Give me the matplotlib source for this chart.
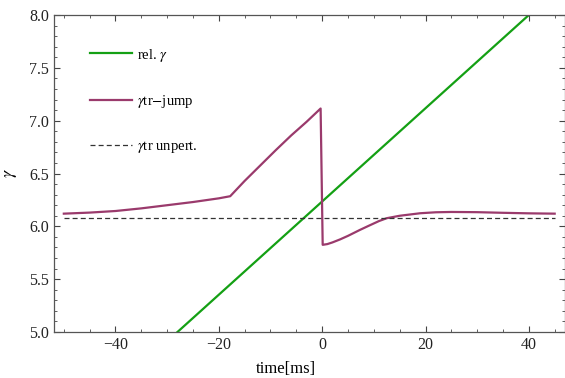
import numpy as np
import matplotlib
matplotlib.use('Agg')
import matplotlib.pyplot as plt
from matplotlib.ticker import MultipleLocator

plt.rcParams['font.family'] = ['Liberation Serif', 'DejaVu Serif']
plt.rcParams['mathtext.fontset'] = 'stix'

# relativistic gamma (straight line)
t_rel = [-28.0, 40.0]
g_rel = [5.0, 8.0]

# gamma transition with jump
t_jump = [-50, -45, -40, -35, -30, -25, -20, -17.8, -15, -12, -9, -6, -3, -0.3,
          0.1, 1, 2, 3.5, 5, 7.3, 9, 11, 12.5, 15, 19, 22, 25, 30, 35, 40, 45]
g_jump = [6.12, 6.13, 6.145, 6.17, 6.20, 6.23, 6.265, 6.285, 6.43, 6.575, 6.72, 6.86, 6.99, 7.115,
          5.825, 5.832, 5.848, 5.877, 5.91, 5.966, 6.005, 6.05, 6.077, 6.10, 6.124, 6.133, 6.136,
          6.134, 6.128, 6.123, 6.12]

# unperturbed gamma transition
t_unp = [-50, 45]
g_unp = [6.083, 6.083]

fig = plt.figure(figsize=(5.65, 3.78), dpi=100)
ax = fig.add_axes([54 / 565, 46 / 378, 510.5 / 565, 317 / 378])

ax.plot(t_rel, g_rel, color='#14a014', lw=1.6, label=r'rel. $\gamma$')
ax.plot(t_jump, g_jump, color='#9a3a6c', lw=1.6, label=r'$\gamma$tr$-$jump')
ax.plot(t_unp, g_unp, color='#333333', lw=0.9, dashes=(4, 2.5), label=r'$\gamma$tr unpert.')

ax.set_xlim(-51.9, 46.9)
ax.set_ylim(5.0, 8.0)
ax.xaxis.set_major_locator(MultipleLocator(20))
ax.xaxis.set_minor_locator(MultipleLocator(5))
ax.yaxis.set_major_locator(MultipleLocator(0.5))
ax.yaxis.set_minor_locator(MultipleLocator(0.1))
ax.yaxis.set_major_formatter(plt.FuncFormatter(lambda v, p: f'{v:.1f}'))
ax.xaxis.set_major_formatter(plt.FuncFormatter(lambda v, p: f'{v:.0f}'.replace('-', '\u2212')))

ax.tick_params(which='both', direction='in', top=True, right=True, colors='#444444',
               labelcolor='#222222', labelsize=11.5)
ax.tick_params(which='major', length=4.5, width=0.8)
ax.tick_params(which='minor', length=2.5, width=0.6)
for s in ax.spines.values():
    s.set_color('#555555')
    s.set_linewidth(0.9)

ax.set_xlabel('time[ms]', fontsize=12)
ax.xaxis.set_label_coords(0.455, -0.09)
ax.set_ylabel(r'$\gamma$', fontsize=13)
ax.yaxis.set_label_coords(-0.068, 0.5)

ax.legend(loc='upper left', bbox_to_anchor=(0.045, 0.942), frameon=False, fontsize=10.5,
          handlelength=2.85, handletextpad=0.4, labelspacing=2.0)

fig.savefig('out.png', dpi=100)
